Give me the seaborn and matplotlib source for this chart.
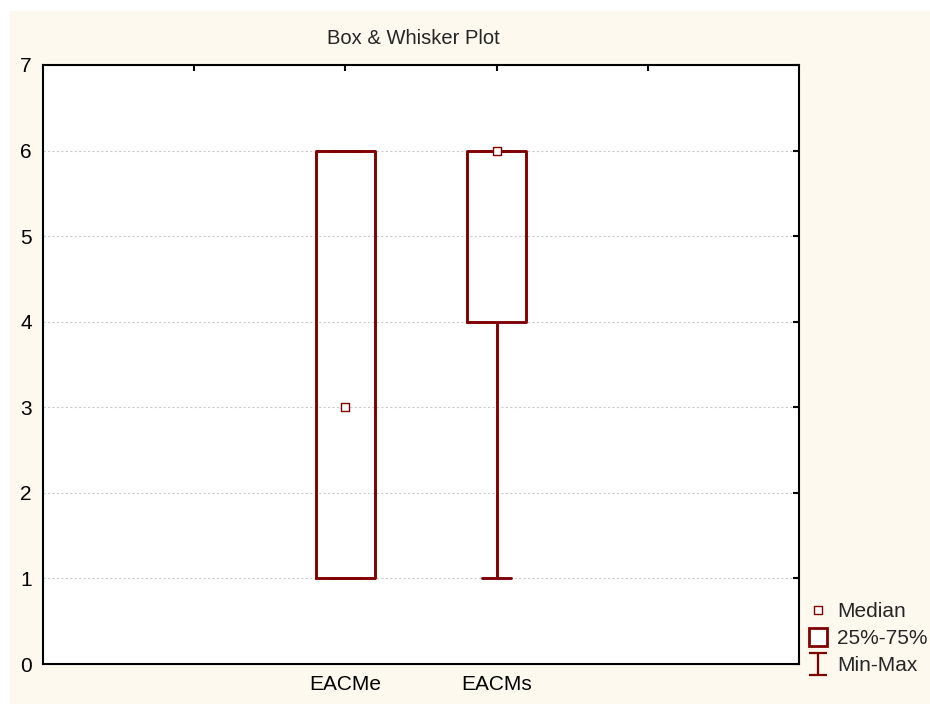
import numpy as np
import pandas as pd
import matplotlib
matplotlib.use("Agg")
import matplotlib.pyplot as plt
import seaborn as sns
from matplotlib.lines import Line2D
from matplotlib.patches import Rectangle
from matplotlib.path import Path

# Five-number summaries of the two variables
variables = ["EACMe", "EACMs"]
minimum = [1, 1]
lower_quartile = [1, 4]
median = [3, 6]
upper_quartile = [6, 6]
maximum = [6, 6]

y_ticks = [0, 1, 2, 3, 4, 5, 6, 7]
legend_labels = ["Median", "25%-75%", "Min-Max"]

RED = "#800000"
CREAM = "#fef9ef"

# With five points per variable, linear quantiles reproduce the summary exactly
rows = []
for name, lo, q1, md, q3, hi in zip(variables, minimum, lower_quartile,
                                    median, upper_quartile, maximum):
    for v in (lo, q1, md, q3, hi):
        rows.append({"variable": name, "value": v})
df = pd.DataFrame(rows)

sns.set_style("white")
plt.rcParams["font.family"] = ["Liberation Sans", "DejaVu Sans"]

fig = plt.figure(figsize=(9.3, 7.04), dpi=100)
fig.patch.set_facecolor("white")
fig.patches.append(Rectangle((10 / 930, 0), 920 / 930, 693 / 704,
                             transform=fig.transFigure, facecolor=CREAM,
                             edgecolor="none", zorder=-10))

ax = fig.add_axes([43 / 930, 40 / 704, 756 / 930, 599 / 704])
ax.set_facecolor("white")

sns.boxplot(data=df, x="variable", y="value", order=variables,
            whis=(0, 100), width=0.39, fill=False, color=RED,
            saturation=1, linewidth=2.1, showfliers=False,
            medianprops={"visible": False}, ax=ax)

sns.scatterplot(x=variables, y=median, marker="s", s=40,
                facecolor="white", edgecolor=RED, linewidth=1,
                zorder=5, ax=ax, legend=False)

ax.set_xlim(-2, 3)
ax.set_xticks([-1, 0, 1, 2])
ax.set_xticklabels(["", "EACMe", "EACMs", ""])
ax.set_ylim(0, 7)
ax.set_yticks(y_ticks)
ax.set_xlabel("")
ax.set_ylabel("")

ax.yaxis.grid(True, color="#cccccc", linestyle=(0, (2, 2)), linewidth=0.8)
ax.xaxis.grid(False)
ax.set_axisbelow(True)

for sp in ax.spines.values():
    sp.set_visible(True)
    sp.set_color("black")
    sp.set_linewidth(1.5)

ax.tick_params(direction="in", length=4, width=1.5, top=True, right=True,
               labelsize=15, colors="black", pad=8)

fig.text(413 / 930, 1 - 39 / 704, "Box & Whisker Plot",
         ha="center", va="center", fontsize=14.5)

# Legend glyphs
ibeam = Path([(-0.8, -1), (0.8, -1), (0, -1), (0, 1), (-0.8, 1), (0.8, 1)],
             [Path.MOVETO, Path.LINETO, Path.MOVETO, Path.LINETO,
              Path.MOVETO, Path.LINETO])
handles = [
    Line2D([], [], ls="none", marker="s", ms=6, mfc="white", mec=RED, mew=1),
    Line2D([], [], ls="none", marker="s", ms=12.5, mfc="white", mec=RED, mew=2),
    Line2D([], [], ls="none", marker=ibeam, ms=16, mfc="none", mec=RED, mew=1.6),
]
fig.legend(handles, legend_labels, loc="upper left",
           bbox_to_anchor=(805 / 930, 1 - 602 / 704), frameon=False,
           fontsize=15, handlelength=1.2, handletextpad=0.35,
           labelspacing=0.38, borderpad=0, borderaxespad=0)

fig.savefig("out.png", dpi=100, facecolor=fig.get_facecolor())
